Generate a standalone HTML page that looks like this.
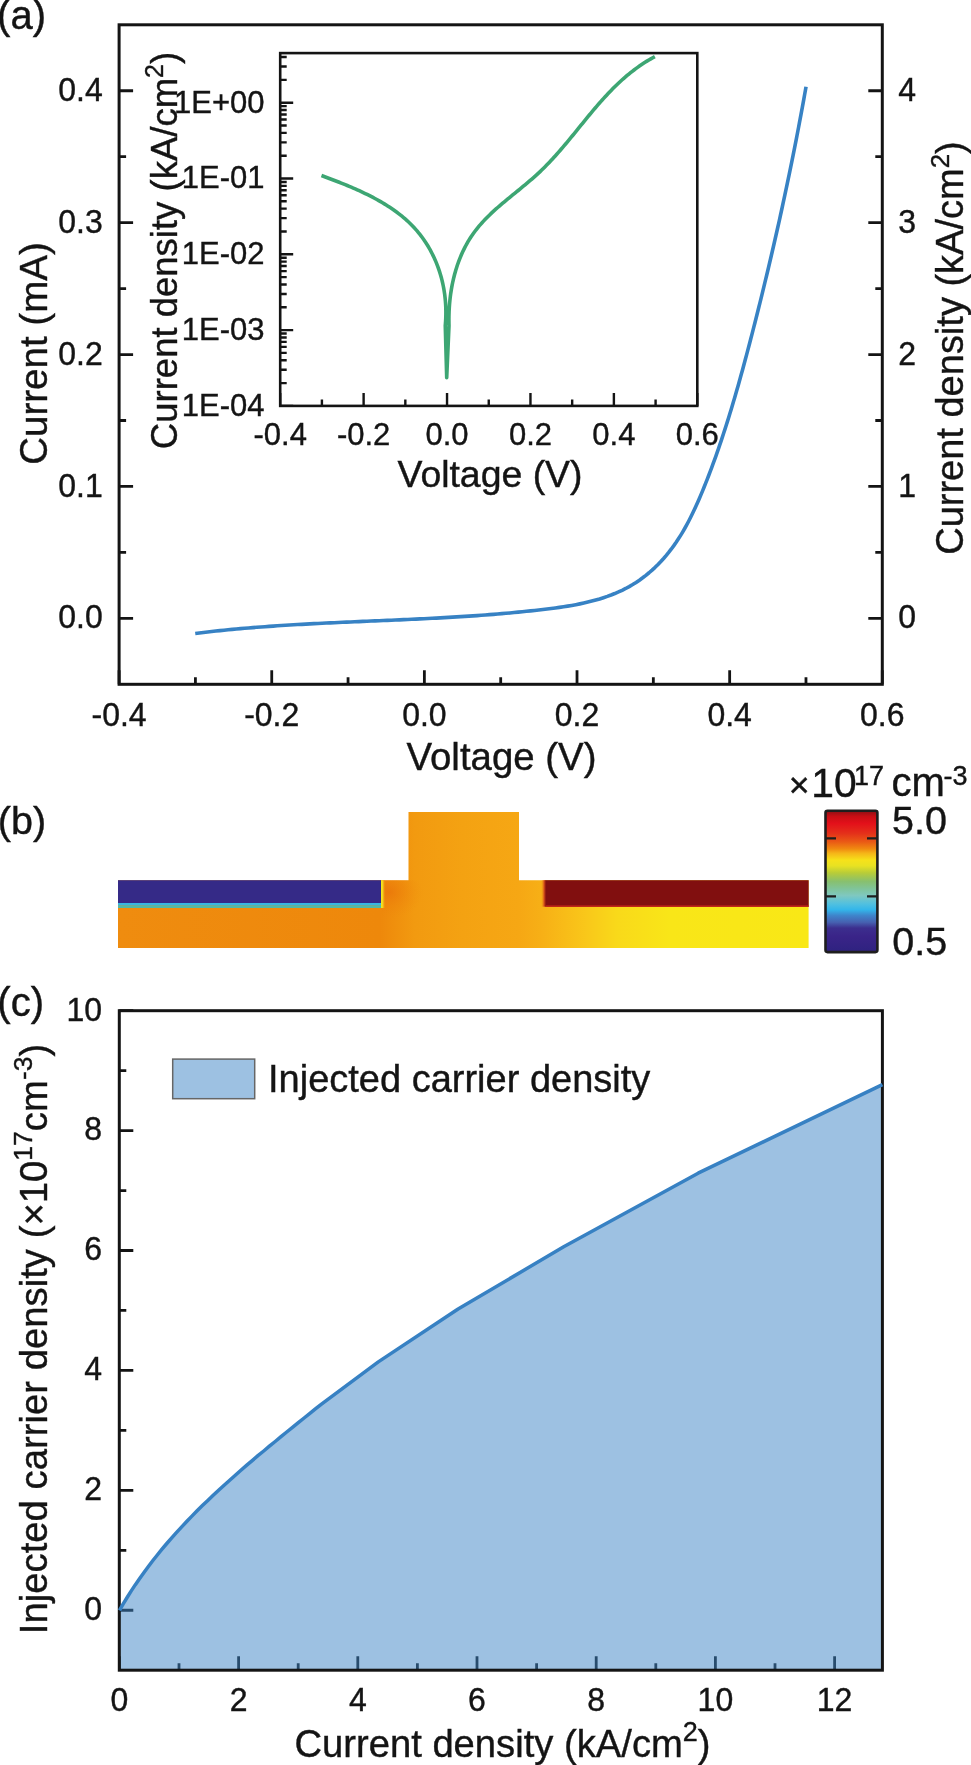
<!DOCTYPE html>
<html><head><meta charset="utf-8"><style>
html,body{margin:0;padding:0;background:#fff;}
svg{display:block;will-change:transform;}
text{stroke:#141414;stroke-width:0.4px;}
</style></head><body>
<svg width="971" height="1765" viewBox="0 0 971 1765">
<rect width="971" height="1765" fill="#fff"/>
<g stroke="#141414" stroke-width="3.0" fill="none">
<rect x="119.1" y="24.8" width="763.1999999999999" height="659.5"/>
<path stroke-width="2.8" d="M119.1 618.35h14M882.3 618.35h-14M119.1 486.45h14M882.3 486.45h-14M119.1 354.55h14M882.3 354.55h-14M119.1 222.65h14M882.3 222.65h-14M119.1 90.75h14M882.3 90.75h-14M119.1 552.40h7M882.3 552.40h-7M119.1 420.50h7M882.3 420.50h-7M119.1 288.60h7M882.3 288.60h-7M119.1 156.70h7M882.3 156.70h-7M119.10 684.3v-14M271.74 684.3v-14M424.38 684.3v-14M577.02 684.3v-14M729.66 684.3v-14M882.30 684.3v-14M195.42 684.3v-7M348.06 684.3v-7M500.70 684.3v-7M653.34 684.3v-7M805.98 684.3v-7"/>
</g>
<g font-family='"Liberation Sans", sans-serif' fill="#141414" font-size="31">
<text transform="translate(102.70 628.45) scale(1 1.035)" font-size="32" text-anchor="end">0.0</text>
<text transform="translate(898.20 628.45) scale(1 1.035)" font-size="32" text-anchor="start">0</text>
<text transform="translate(102.70 496.55) scale(1 1.035)" font-size="32" text-anchor="end">0.1</text>
<text transform="translate(898.20 496.55) scale(1 1.035)" font-size="32" text-anchor="start">1</text>
<text transform="translate(102.70 364.65) scale(1 1.035)" font-size="32" text-anchor="end">0.2</text>
<text transform="translate(898.20 364.65) scale(1 1.035)" font-size="32" text-anchor="start">2</text>
<text transform="translate(102.70 232.75) scale(1 1.035)" font-size="32" text-anchor="end">0.3</text>
<text transform="translate(898.20 232.75) scale(1 1.035)" font-size="32" text-anchor="start">3</text>
<text transform="translate(102.70 100.85) scale(1 1.035)" font-size="32" text-anchor="end">0.4</text>
<text transform="translate(898.20 100.85) scale(1 1.035)" font-size="32" text-anchor="start">4</text>
<text transform="translate(119.10 725.80) scale(1 1.035)" font-size="32" text-anchor="middle">-0.4</text>
<text transform="translate(271.74 725.80) scale(1 1.035)" font-size="32" text-anchor="middle">-0.2</text>
<text transform="translate(424.38 725.80) scale(1 1.035)" font-size="32" text-anchor="middle">0.0</text>
<text transform="translate(577.02 725.80) scale(1 1.035)" font-size="32" text-anchor="middle">0.2</text>
<text transform="translate(729.66 725.80) scale(1 1.035)" font-size="32" text-anchor="middle">0.4</text>
<text transform="translate(882.30 725.80) scale(1 1.035)" font-size="32" text-anchor="middle">0.6</text>
</g>
<g font-family='"Liberation Sans", sans-serif' fill="#141414" font-size="38">
<text x="501.5" y="769.5" text-anchor="middle" font-size="38.4">Voltage (V)</text>
<text transform="translate(47,353.5) rotate(-90)" text-anchor="middle" font-size="38.5">Current (mA)</text>
<text transform="translate(963,348) rotate(-90)" text-anchor="middle">Current density (kA/cm<tspan font-size="26" dy="-14">2</tspan><tspan dy="14">)</tspan></text>
<text x="-2.9" y="28.5" font-size="40">(a)</text>
<text x="-2.2" y="834.3" font-size="39.5">(b)</text>
<text x="-2.7" y="1016" font-size="40">(c)</text>
</g>
<path d="M195.23 633.44L199.35 632.93L203.47 632.44L207.58 631.97L211.70 631.51L215.81 631.06L219.92 630.63L224.02 630.21L228.13 629.80L232.23 629.41L236.33 629.03L240.43 628.66L244.53 628.30L248.62 627.95L252.72 627.62L256.81 627.29L260.90 626.98L264.99 626.68L269.08 626.38L273.17 626.10L277.25 625.82L281.34 625.55L285.42 625.29L289.50 625.04L293.58 624.80L297.66 624.56L301.74 624.33L305.82 624.10L309.89 623.88L313.97 623.67L318.05 623.46L322.12 623.26L326.20 623.06L330.27 622.87L334.34 622.68L338.42 622.49L342.49 622.31L346.56 622.12L350.63 621.94L354.71 621.77L358.78 621.59L362.85 621.42L366.92 621.24L370.99 621.07L375.07 620.90L379.14 620.73L383.21 620.55L387.29 620.38L391.36 620.20L395.43 620.02L399.51 619.85L403.58 619.66L407.66 619.48L411.74 619.29L415.81 619.10L419.89 618.91L423.97 618.71L428.05 618.50L432.13 618.30L436.21 618.08L440.30 617.86L444.38 617.64L448.47 617.41L452.55 617.17L456.64 616.92L460.73 616.67L464.82 616.41L468.92 616.14L473.01 615.86L477.11 615.58L481.20 615.28L485.30 614.98L489.41 614.66L493.51 614.34L497.61 614.00L501.72 613.66L505.83 613.30L509.94 612.93L514.06 612.55L518.17 612.15L522.29 611.75L526.41 611.32L530.54 610.89L534.66 610.44L538.79 609.98L542.92 609.50L547.05 609.01L551.18 608.49L555.31 607.95L559.43 607.37L563.54 606.76L567.63 606.11L571.71 605.42L575.77 604.67L579.81 603.87L583.83 603.02L587.82 602.10L591.78 601.11L595.72 600.05L599.61 598.92L603.47 597.70L607.29 596.41L611.06 595.02L614.80 593.54L618.48 591.95L622.11 590.27L625.69 588.48L629.21 586.58L632.68 584.56L636.08 582.42L639.42 580.17L642.69 577.80L645.90 575.33L649.04 572.75L652.10 570.08L655.09 567.31L658.01 564.45L660.85 561.51L663.61 558.49L666.29 555.38L668.88 552.21L671.39 548.96L673.82 545.65L676.17 542.28L678.44 538.85L680.64 535.37L682.77 531.84L684.83 528.27L686.83 524.65L688.77 520.99L690.66 517.30L692.49 513.58L694.28 509.83L696.02 506.06L697.72 502.27L699.38 498.46L701.00 494.65L702.59 490.82L704.15 486.99L705.69 483.16L707.20 479.33L708.69 475.49L710.16 471.66L711.60 467.81L713.02 463.97L714.42 460.12L715.81 456.27L717.17 452.41L718.51 448.55L719.84 444.68L721.15 440.81L722.45 436.93L723.72 433.05L724.99 429.16L726.23 425.27L727.47 421.37L728.69 417.48L729.89 413.57L731.08 409.67L732.26 405.76L733.43 401.84L734.58 397.92L735.72 394.00L736.86 390.08L737.98 386.15L739.09 382.22L740.19 378.28L741.28 374.34L742.37 370.40L743.44 366.46L744.51 362.52L745.57 358.57L746.63 354.62L747.68 350.66L748.72 346.71L749.76 342.75L750.79 338.79L751.81 334.83L752.84 330.87L753.86 326.90L754.87 322.94L755.88 318.97L756.88 315.00L757.88 311.03L758.88 307.05L759.87 303.08L760.86 299.10L761.84 295.12L762.81 291.14L763.79 287.16L764.75 283.18L765.72 279.19L766.67 275.21L767.63 271.22L768.58 267.23L769.52 263.24L770.46 259.25L771.39 255.26L772.32 251.26L773.25 247.27L774.17 243.27L775.08 239.27L775.99 235.27L776.90 231.27L777.80 227.27L778.69 223.27L779.58 219.27L780.47 215.26L781.35 211.26L782.22 207.25L783.09 203.24L783.96 199.24L784.82 195.23L785.67 191.22L786.52 187.21L787.36 183.19L788.20 179.18L789.04 175.17L789.87 171.16L790.69 167.14L791.51 163.13L792.32 159.11L793.13 155.10L793.93 151.08L794.73 147.06L795.52 143.04L796.31 139.03L797.09 135.01L797.87 130.99L798.64 126.97L799.40 122.95L800.16 118.93L800.92 114.91L801.66 110.89L802.41 106.87L803.15 102.85L803.88 98.82L804.60 94.80L805.33 90.78L806.04 86.76" fill="none" stroke="#3782C4" stroke-width="3.6" stroke-linejoin="round"/>
<rect x="280.2" y="53.1" width="417.09999999999997" height="352.79999999999995" fill="#fff" stroke="#141414" stroke-width="2.6"/>
<path d="M280.2 405.90h13M280.2 383.08h6.5M280.2 369.73h6.5M280.2 360.26h6.5M280.2 352.92h6.5M280.2 346.92h6.5M280.2 341.84h6.5M280.2 337.45h6.5M280.2 333.57h6.5M280.2 330.10h13M280.2 307.28h6.5M280.2 293.93h6.5M280.2 284.46h6.5M280.2 277.12h6.5M280.2 271.12h6.5M280.2 266.04h6.5M280.2 261.65h6.5M280.2 257.77h6.5M280.2 254.30h13M280.2 231.48h6.5M280.2 218.13h6.5M280.2 208.66h6.5M280.2 201.32h6.5M280.2 195.32h6.5M280.2 190.24h6.5M280.2 185.85h6.5M280.2 181.97h6.5M280.2 178.50h13M280.2 155.68h6.5M280.2 142.33h6.5M280.2 132.86h6.5M280.2 125.52h6.5M280.2 119.52h6.5M280.2 114.44h6.5M280.2 110.05h6.5M280.2 106.17h6.5M280.2 102.70h13M280.2 79.88h6.5M280.2 66.53h6.5M280.2 57.06h6.5M280.20 405.9v-13M363.62 405.9v-13M447.04 405.9v-13M530.46 405.9v-13M613.88 405.9v-13M697.30 405.9v-13M321.91 405.9v-6.5M405.33 405.9v-6.5M488.75 405.9v-6.5M572.17 405.9v-6.5M655.59 405.9v-6.5" stroke="#141414" stroke-width="2.4" fill="none"/>
<g font-family='"Liberation Sans", sans-serif' fill="#141414" font-size="31">
<text transform="translate(264.50 415.70) scale(1 1.03)" font-size="31" text-anchor="end">1E-04</text>
<text transform="translate(264.50 339.90) scale(1 1.03)" font-size="31" text-anchor="end">1E-03</text>
<text transform="translate(264.50 264.10) scale(1 1.03)" font-size="31" text-anchor="end">1E-02</text>
<text transform="translate(264.50 188.30) scale(1 1.03)" font-size="31" text-anchor="end">1E-01</text>
<text transform="translate(264.50 112.50) scale(1 1.03)" font-size="31" text-anchor="end">1E+00</text>
<text transform="translate(280.20 445.10) scale(1 1.03)" font-size="31" text-anchor="middle">-0.4</text>
<text transform="translate(363.62 445.10) scale(1 1.03)" font-size="31" text-anchor="middle">-0.2</text>
<text transform="translate(447.04 445.10) scale(1 1.03)" font-size="31" text-anchor="middle">0.0</text>
<text transform="translate(530.46 445.10) scale(1 1.03)" font-size="31" text-anchor="middle">0.2</text>
<text transform="translate(613.88 445.10) scale(1 1.03)" font-size="31" text-anchor="middle">0.4</text>
<text transform="translate(697.30 445.10) scale(1 1.03)" font-size="31" text-anchor="middle">0.6</text>
</g>
<g font-family='"Liberation Sans", sans-serif' fill="#141414" font-size="37">
<text x="490" y="486.5" text-anchor="middle" font-size="37.4">Voltage (V)</text>
<text transform="translate(176.6,250.5) rotate(-90)" text-anchor="middle" font-size="36.5">Current density (kA/cm<tspan font-size="25" dy="-14">2</tspan><tspan dy="14">)</tspan></text>
</g>
<path d="M321.47 175.56L323.41 176.28L325.36 177.01L327.33 177.74L329.29 178.48L331.27 179.22L333.25 179.98L335.24 180.74L337.24 181.51L339.23 182.29L341.23 183.09L343.24 183.89L345.24 184.70L347.25 185.53L349.25 186.36L351.26 187.21L353.26 188.07L355.26 188.94L357.26 189.83L359.25 190.73L361.23 191.65L363.21 192.58L365.19 193.52L367.15 194.48L369.11 195.45L371.06 196.45L373.00 197.46L374.92 198.48L376.84 199.52L378.74 200.59L380.63 201.67L382.50 202.76L384.36 203.88L386.21 205.02L388.03 206.18L389.84 207.36L391.63 208.55L393.40 209.77L395.15 211.02L396.88 212.28L398.59 213.57L400.27 214.88L401.93 216.21L403.57 217.57L405.18 218.95L406.76 220.36L408.32 221.79L409.85 223.25L411.35 224.73L412.82 226.24L414.26 227.78L415.67 229.34L417.06 230.93L418.41 232.55L419.72 234.19L421.01 235.85L422.27 237.54L423.50 239.25L424.69 240.98L425.86 242.74L426.99 244.51L428.09 246.31L429.16 248.13L430.19 249.97L431.20 251.83L432.17 253.71L433.11 255.61L434.02 257.52L434.90 259.46L435.74 261.41L436.55 263.38L437.33 265.36L438.07 267.36L438.78 269.38L439.46 271.41L440.11 273.45L440.72 275.51L441.30 277.58L441.84 279.67L442.35 281.77L442.83 283.87L443.27 286.00L443.68 288.13L444.05 290.27L444.39 292.42L444.70 294.58L444.96 296.75L445.20 298.93L445.40 301.11L445.56 303.31L445.69 305.51L445.79 307.71L445.85 309.93L445.87 312.14L445.86 314.37L445.81 316.59L445.73 318.83L445.61 321.06L445.45 323.30L445.26 325.54L446.70 377.60L449.00 325.55L448.94 323.28L448.92 321.01L448.91 318.74L448.94 316.46L448.99 314.19L449.07 311.92L449.17 309.65L449.31 307.38L449.47 305.11L449.65 302.85L449.87 300.59L450.11 298.34L450.38 296.09L450.68 293.85L451.01 291.62L451.37 289.39L451.75 287.17L452.17 284.96L452.61 282.76L453.09 280.57L453.59 278.39L454.13 276.22L454.69 274.07L455.29 271.92L455.91 269.79L456.57 267.68L457.25 265.57L457.97 263.49L458.72 261.42L459.51 259.36L460.32 257.33L461.17 255.31L462.04 253.31L462.95 251.33L463.90 249.36L464.87 247.42L465.88 245.50L466.93 243.60L468.00 241.73L469.11 239.88L470.26 238.05L471.43 236.24L472.65 234.46L473.89 232.71L475.17 230.98L476.49 229.28L477.84 227.60L479.21 225.94L480.62 224.31L482.06 222.70L483.52 221.11L485.01 219.53L486.52 217.98L488.05 216.44L489.61 214.92L491.19 213.41L492.78 211.91L494.40 210.43L496.03 208.96L497.68 207.51L499.34 206.06L501.01 204.62L502.70 203.19L504.39 201.76L506.10 200.34L507.81 198.93L509.53 197.52L511.25 196.11L512.98 194.70L514.71 193.29L516.44 191.89L518.18 190.48L519.91 189.07L521.63 187.65L523.36 186.23L525.08 184.81L526.79 183.38L528.49 181.94L530.19 180.49L531.88 179.04L533.55 177.57L535.21 176.09L536.86 174.60L538.49 173.09L540.11 171.57L541.71 170.04L543.29 168.49L544.86 166.93L546.42 165.35L547.96 163.77L549.49 162.17L551.00 160.56L552.51 158.94L554.00 157.31L555.48 155.67L556.95 154.03L558.41 152.37L559.87 150.71L561.31 149.04L562.75 147.37L564.18 145.68L565.60 144.00L567.02 142.30L568.43 140.61L569.84 138.91L571.24 137.20L572.64 135.50L574.04 133.79L575.43 132.08L576.82 130.37L578.21 128.66L579.60 126.94L580.99 125.23L582.38 123.52L583.77 121.81L585.16 120.11L586.56 118.41L587.95 116.71L589.35 115.01L590.76 113.32L592.17 111.63L593.58 109.95L595.00 108.27L596.43 106.61L597.86 104.94L599.30 103.29L600.75 101.65L602.21 100.01L603.67 98.38L605.15 96.76L606.63 95.16L608.13 93.56L609.64 91.98L611.16 90.41L612.69 88.85L614.24 87.30L615.80 85.77L617.38 84.25L618.97 82.74L620.57 81.26L622.19 79.78L623.83 78.33L625.49 76.89L627.16 75.47L628.86 74.06L630.57 72.68L632.30 71.31L634.05 69.97L635.83 68.64L637.62 67.34L639.44 66.06L641.28 64.79L643.14 63.56L645.03 62.34L646.94 61.15L648.87 59.98L650.83 58.84L652.82 57.72L654.84 56.63" fill="none" stroke="#3DA673" stroke-width="3.6" stroke-linejoin="round"/>
<defs>
<linearGradient id="cb" x1="0" y1="0" x2="0" y2="1"><stop offset="0" stop-color="#8A0F14"/><stop offset="0.04" stop-color="#C80E14"/><stop offset="0.089" stop-color="#E3101A"/><stop offset="0.16" stop-color="#E4301A"/><stop offset="0.22" stop-color="#EA5A15"/><stop offset="0.27" stop-color="#F08A10"/><stop offset="0.3" stop-color="#F5B418"/><stop offset="0.35" stop-color="#F6E21A"/><stop offset="0.39" stop-color="#E8E222"/><stop offset="0.44" stop-color="#B8CC38"/><stop offset="0.5" stop-color="#88C06E"/><stop offset="0.55" stop-color="#80C498"/><stop offset="0.6" stop-color="#7FC8C0"/><stop offset="0.66" stop-color="#50C0E0"/><stop offset="0.7" stop-color="#33B6EA"/><stop offset="0.74" stop-color="#3E86CC"/><stop offset="0.79" stop-color="#4660B0"/><stop offset="0.83" stop-color="#3C2E8E"/><stop offset="0.89" stop-color="#3A2488"/><stop offset="1" stop-color="#2E2280"/></linearGradient>
<linearGradient id="sub" gradientUnits="userSpaceOnUse" x1="118" y1="0" x2="808" y2="0"><stop offset="0" stop-color="#EF8C0F"/><stop offset="0.38" stop-color="#EE880B"/><stop offset="0.43" stop-color="#F29A10"/><stop offset="0.50" stop-color="#F4A212"/><stop offset="0.58" stop-color="#F6A714"/><stop offset="0.615" stop-color="#F7B016"/><stop offset="0.68" stop-color="#F9C81A"/><stop offset="0.723" stop-color="#F9D91A"/><stop offset="0.80" stop-color="#F9E618"/><stop offset="1" stop-color="#F9E816"/></linearGradient>
<radialGradient id="glow" gradientUnits="userSpaceOnUse" cx="389" cy="892" r="34" gradientTransform="translate(389 892) scale(1 0.8) translate(-389 -892)"><stop offset="0" stop-color="#EA740A" stop-opacity="0.75"/><stop offset="1" stop-color="#EE880B" stop-opacity="0"/></radialGradient>
<linearGradient id="ystripe" x1="0" y1="0" x2="1" y2="0"><stop offset="0" stop-color="#F4E81E"/><stop offset="0.4" stop-color="#F4D41C"/><stop offset="1" stop-color="#EE880B" stop-opacity="0"/></linearGradient>
<linearGradient id="redge" x1="0" y1="0" x2="1" y2="0"><stop offset="0" stop-color="#F2A012" stop-opacity="0"/><stop offset="0.6" stop-color="#D8501A"/><stop offset="1" stop-color="#810F0F"/></linearGradient>
</defs>
<path d="M118 880.2 H408.5 V812 H519 V880.2 H808.6 V948 H118 Z" fill="url(#sub)"/>
<rect x="381" y="880.2" width="45" height="40" fill="url(#glow)"/>
<rect x="118" y="880.2" width="263" height="23" fill="#352A87"/>
<rect x="118" y="903" width="263" height="2.6" fill="#38B6E0"/>
<rect x="118" y="905.6" width="263" height="2.4" fill="#52B9A6"/>
<rect x="381" y="880.2" width="4.5" height="27.8" fill="url(#ystripe)"/>
<rect x="545.7" y="880.2" width="263" height="26.5" fill="#810F0F"/>
<rect x="541" y="880.2" width="5" height="26.5" fill="url(#redge)"/>
<rect x="545.7" y="905.4" width="263" height="1.5" fill="#C0261A"/>
<rect x="825.5" y="810.7" width="51.9" height="141.4" rx="2" fill="url(#cb)" stroke="#1E1E1E" stroke-width="2.6"/>
<path d="M826 838.4h10M877 838.4h-10M826 896.3h10M877 896.3h-10" stroke="#1E1E1E" stroke-width="2.2"/>
<g font-family='"Liberation Sans", sans-serif' fill="#141414" font-size="37">
<text x="892.1" y="834.1" font-size="39.5">5.0</text>
<text x="892.2" y="954.6" font-size="39.5">0.5</text>
<text x="788.7" y="796.9" font-size="35.7">×</text>
<text x="811.2" y="796.6" font-size="40.8">10</text>
<text x="854.1" y="784.7" font-size="27">17</text>
<text x="891.4" y="796.3" font-size="40">cm</text>
<text x="943.4" y="784.6" font-size="27">-3</text>
</g>
<path d="M119.3 1610.25h14M119.3 1490.34h14M119.3 1370.43h14M119.3 1250.52h14M119.3 1130.61h14M119.3 1010.70h14M119.3 1550.29h7M119.3 1430.38h7M119.3 1310.47h7M119.3 1190.56h7M119.3 1070.65h7M119.40 1670.2v-14M238.60 1670.2v-14M357.80 1670.2v-14M477.00 1670.2v-14M596.20 1670.2v-14M715.40 1670.2v-14M834.60 1670.2v-14M179.00 1670.2v-7M298.20 1670.2v-7M417.40 1670.2v-7M536.60 1670.2v-7M655.80 1670.2v-7M775.00 1670.2v-7" stroke="#141414" stroke-width="2.8" fill="none"/>
<path d="M119.5 1610.4L123.2 1603.9L127.1 1597.5L131.1 1591.1L135.2 1584.9L139.5 1578.7L143.8 1572.7L148.2 1566.7L152.7 1560.8L157.3 1555.0L162.0 1549.2L166.8 1543.5L171.7 1537.9L176.6 1532.4L181.7 1526.9L186.7 1521.5L191.9 1516.1L197.1 1510.8L202.4 1505.6L207.8 1500.4L213.2 1495.3L218.6 1490.2L224.1 1485.2L229.7 1480.2L235.3 1475.2L240.9 1470.3L246.5 1465.4L252.2 1460.6L257.9 1455.7L263.7 1451.0L269.4 1446.2L275.2 1441.5L281.0 1436.7L286.7 1432.0L292.5 1427.4L298.3 1422.7L304.1 1418.0L309.9 1413.4L315.7 1408.7L321.5 1404.1L378.3 1361.9L458.1 1309.0L563.7 1246.8L698.1 1173.2L882.4 1084.6 L882.4 1084.6 L882.4 1670.2 L119.3 1670.2 Z" fill="rgb(59,131,197)" fill-opacity="0.5"/>
<rect x="119.3" y="1010.7" width="763.1" height="659.5" fill="none" stroke="#141414" stroke-width="3"/>
<path d="M119.5 1610.4L123.2 1603.9L127.1 1597.5L131.1 1591.1L135.2 1584.9L139.5 1578.7L143.8 1572.7L148.2 1566.7L152.7 1560.8L157.3 1555.0L162.0 1549.2L166.8 1543.5L171.7 1537.9L176.6 1532.4L181.7 1526.9L186.7 1521.5L191.9 1516.1L197.1 1510.8L202.4 1505.6L207.8 1500.4L213.2 1495.3L218.6 1490.2L224.1 1485.2L229.7 1480.2L235.3 1475.2L240.9 1470.3L246.5 1465.4L252.2 1460.6L257.9 1455.7L263.7 1451.0L269.4 1446.2L275.2 1441.5L281.0 1436.7L286.7 1432.0L292.5 1427.4L298.3 1422.7L304.1 1418.0L309.9 1413.4L315.7 1408.7L321.5 1404.1L378.3 1361.9L458.1 1309.0L563.7 1246.8L698.1 1173.2L882.4 1084.6" fill="none" stroke="#3781C3" stroke-width="3.5" stroke-linejoin="round"/>
<g font-family='"Liberation Sans", sans-serif' fill="#141414" font-size="31">
<text transform="translate(102.00 1620.10) scale(1 1.035)" font-size="32" text-anchor="end">0</text>
<text transform="translate(102.00 1500.19) scale(1 1.035)" font-size="32" text-anchor="end">2</text>
<text transform="translate(102.00 1380.28) scale(1 1.035)" font-size="32" text-anchor="end">4</text>
<text transform="translate(102.00 1260.37) scale(1 1.035)" font-size="32" text-anchor="end">6</text>
<text transform="translate(102.00 1140.46) scale(1 1.035)" font-size="32" text-anchor="end">8</text>
<text transform="translate(102.00 1020.55) scale(1 1.035)" font-size="32" text-anchor="end">10</text>
<text transform="translate(119.40 1711.10) scale(1 1.035)" font-size="32" text-anchor="middle">0</text>
<text transform="translate(238.60 1711.10) scale(1 1.035)" font-size="32" text-anchor="middle">2</text>
<text transform="translate(357.80 1711.10) scale(1 1.035)" font-size="32" text-anchor="middle">4</text>
<text transform="translate(477.00 1711.10) scale(1 1.035)" font-size="32" text-anchor="middle">6</text>
<text transform="translate(596.20 1711.10) scale(1 1.035)" font-size="32" text-anchor="middle">8</text>
<text transform="translate(715.40 1711.10) scale(1 1.035)" font-size="32" text-anchor="middle">10</text>
<text transform="translate(834.60 1711.10) scale(1 1.035)" font-size="32" text-anchor="middle">12</text>
</g>
<rect x="172.7" y="1059.1" width="82" height="39.6" fill="#9DC1E2" stroke="#666" stroke-width="1.5"/>
<g font-family='"Liberation Sans", sans-serif' fill="#141414" font-size="38">
<text x="268" y="1092">Injected carrier density</text>
<text x="502.5" y="1757" text-anchor="middle" font-size="38.2">Current density (kA/cm<tspan font-size="27" dy="-16">2</tspan><tspan dy="16">)</tspan></text>
<text transform="translate(47.4,1339) rotate(-90)" text-anchor="middle" font-size="38.3">Injected carrier density (×10<tspan font-size="26.5" dy="-15">17</tspan><tspan dy="15">cm</tspan><tspan font-size="26.5" dy="-15">-3</tspan><tspan dy="15">)</tspan></text>
</g>
</svg></body></html>
